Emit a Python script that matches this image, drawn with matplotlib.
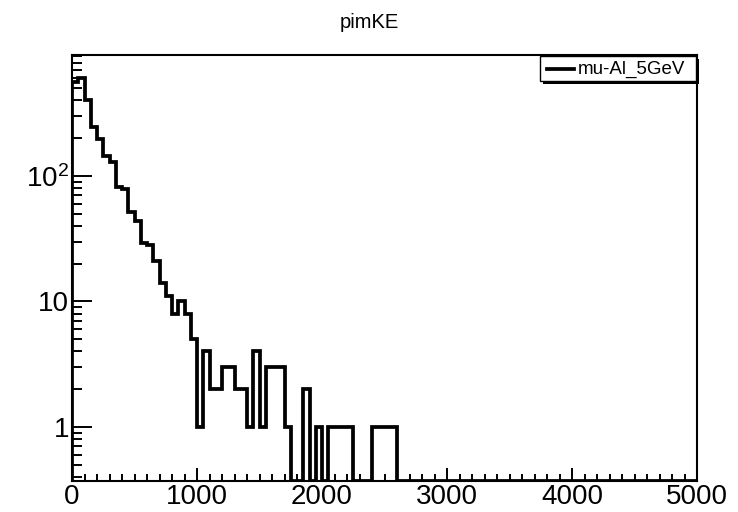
import numpy as np
import matplotlib
matplotlib.use("Agg")
import matplotlib.pyplot as plt
from matplotlib.patches import Rectangle
from matplotlib.lines import Line2D
from matplotlib.ticker import FixedLocator, FixedFormatter, MultipleLocator, NullFormatter

plt.rcParams['font.family'] = ['Liberation Sans', 'DejaVu Sans']
plt.rcParams['mathtext.fontset'] = 'custom'
plt.rcParams['mathtext.rm'] = 'Liberation Sans'

# histogram: 100 bins of 50 from 0 to 5000
title = "pimKE"
legend_label = "mu-Al_5GeV"
x_min, x_max, n_bins = 0, 5000, 100
counts = [560, 600, 400, 247, 198, 144, 129, 82, 79, 52,
          44, 29, 28, 21, 14, 11, 8, 10, 8, 5,
          1, 4, 2, 2, 3, 3, 2, 2, 1, 4,
          1, 3, 3, 3, 1, 0, 0, 2, 0, 1,
          0, 1, 1, 1, 1, 0, 0, 0, 1, 1,
          1, 1] + [0] * 48
y_ticks = [1, 10, 100]
y_ticklabels = ["1", "10", r"$\mathregular{10^{2}}$"]
x_ticks = [0, 1000, 2000, 3000, 4000, 5000]
y_lo, y_hi = 0.37, 920

fig = plt.figure(figsize=(7.38, 5.12), dpi=100)
W, H = 738, 512
L, R, T, B = 72, 697, 55, 481
ax = fig.add_axes([L / W, 1 - B / H, (R - L) / W, (B - T) / H])

edges = np.linspace(x_min, x_max, n_bins + 1)
vals = np.array(counts, dtype=float)
vals = np.where(vals > 0, vals, y_lo)
ax.stairs(vals, edges, baseline=y_lo, color="black", lw=2.7)

ax.set_yscale("log")
ax.set_xlim(x_min, x_max)
ax.set_ylim(y_lo, y_hi)

ax.yaxis.set_major_locator(FixedLocator(y_ticks))
ax.yaxis.set_major_formatter(FixedFormatter(y_ticklabels))
minor = [m * 10 ** e for e in range(-1, 3) for m in range(2, 10)]
ax.yaxis.set_minor_locator(FixedLocator(minor))
ax.yaxis.set_minor_formatter(NullFormatter())
ax.xaxis.set_major_locator(FixedLocator(x_ticks))
ax.xaxis.set_minor_locator(MultipleLocator(100))

ax.tick_params(axis="y", which="major", direction="in", length=14.4, width=1.4,
               labelsize=20, pad=2, right=False)
ax.tick_params(axis="y", which="minor", direction="in", length=7.2, width=1.4, right=False)
ax.tick_params(axis="x", which="major", direction="in", length=9.5, width=1.4,
               labelsize=20, pad=2, top=False)
ax.tick_params(axis="x", which="minor", direction="in", length=4.8, width=1.4, top=False)
for s in ax.spines.values():
    s.set_linewidth(1.5)

fig.text(0.5, 1 - 22 / H, title, ha="center", va="center", fontsize=14.5)

# legend box (ROOT style with shadow)
bx0, bx1, by0, by1 = 540, 696, 56, 81
fig.patches.append(Rectangle((bx0 / W + 2.5 / W, 1 - (by1 + 2.5) / H), (bx1 - bx0) / W,
                             (by1 - by0) / H, transform=fig.transFigure,
                             facecolor="black", edgecolor="black", lw=0))
fig.patches.append(Rectangle((bx0 / W, 1 - by1 / H), (bx1 - bx0) / W, (by1 - by0) / H,
                             transform=fig.transFigure, facecolor="white",
                             edgecolor="black", lw=1.0))
fig.lines.append(Line2D([547 / W, 574 / W], [1 - 69 / H, 1 - 69 / H],
                        transform=fig.transFigure, color="black", lw=2.7))
fig.text(578 / W, 1 - 69 / H, legend_label, ha="left", va="center", fontsize=13.5)

fig.savefig("out.png", dpi=100)
